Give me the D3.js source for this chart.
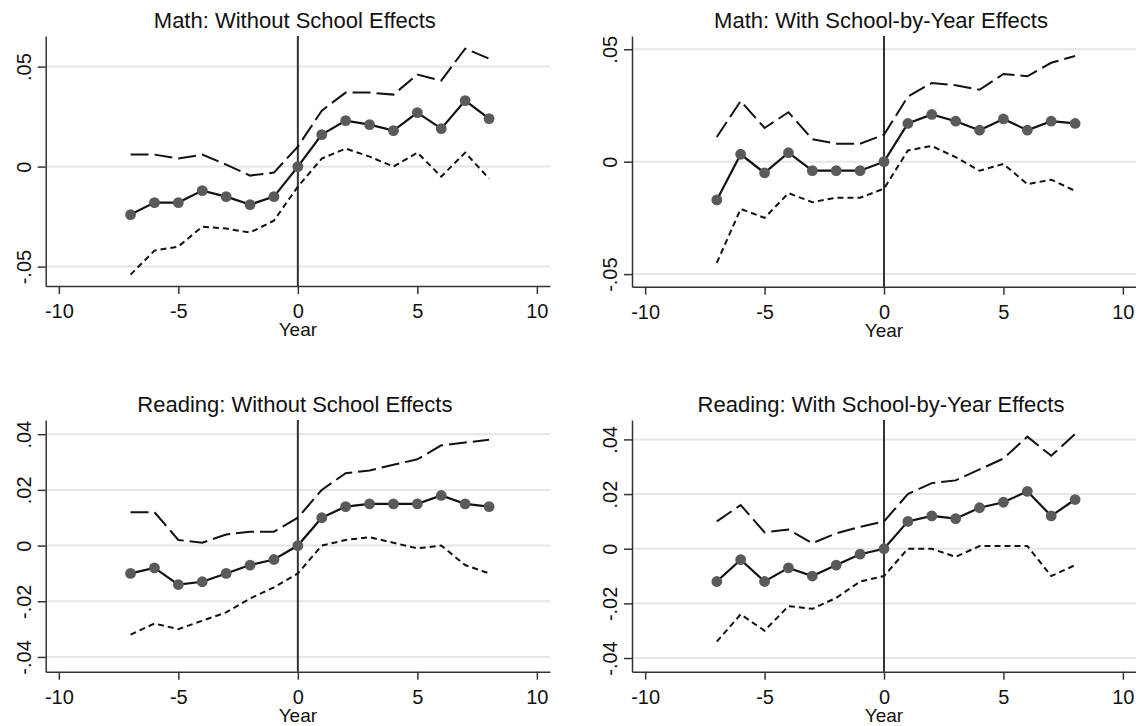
<!DOCTYPE html>
<html>
<head>
<meta charset="utf-8">
<script src="https://cdn.jsdelivr.net/npm/d3@7"></script>
<style>
	body { margin: 0; background: #fff; }
	svg { display: block; font-family: "Liberation Sans", Arial, sans-serif; }
	.axis path, .axis line { stroke: #333; stroke-width: 1.5; }
	.axis text { fill: #111; font-size: 20px; font-family: "Liberation Sans", Arial, sans-serif; }
	.grid { stroke: #e6e6e6; stroke-width: 2; }
</style>
</head>
<body>
<div id="chart"></div>
<script>
// event-time years
var years = [-7,-6,-5,-4,-3,-2,-1,0,1,2,3,4,5,6,7,8]

var xTicks = [-10,-5,0,5,10]
var mathTicks = [-0.05,0,0.05]
var mathTickLabels = ["-.05","0",".05"]
var readTicks = [-0.04,-0.02,0,0.02,0.04]
var readTickLabels = ["-.04","-.02","0",".02",".04"]

// Math: Without School Effects
var mathNoEst   = [-0.024,-0.018,-0.018,-0.012,-0.015,-0.019,-0.015,0,0.016,0.023,0.021,0.018,0.027,0.019,0.033,0.024]
var mathNoUpper = [0.006,0.006,0.004,0.006,0.001,-0.0045,-0.003,0.010,0.028,0.037,0.037,0.036,0.046,0.043,0.059,0.054]
var mathNoLower = [-0.054,-0.042,-0.040,-0.030,-0.031,-0.033,-0.027,-0.010,0.004,0.009,0.005,0,0.007,-0.005,0.007,-0.006]

// Math: With School-by-Year Effects
var mathSyEst   = [-0.017,0.0033,-0.005,0.004,-0.004,-0.004,-0.004,0,0.017,0.021,0.018,0.014,0.019,0.014,0.018,0.017]
var mathSyUpper = [0.011,0.027,0.015,0.022,0.010,0.008,0.008,0.012,0.029,0.035,0.034,0.032,0.039,0.038,0.044,0.047]
var mathSyLower = [-0.045,-0.021,-0.025,-0.014,-0.018,-0.016,-0.016,-0.012,0.005,0.007,0.002,-0.004,-0.001,-0.010,-0.008,-0.013]

// Reading: Without School Effects
var readNoEst   = [-0.010,-0.008,-0.014,-0.013,-0.010,-0.007,-0.005,0,0.010,0.014,0.015,0.015,0.015,0.018,0.015,0.014]
var readNoUpper = [0.012,0.012,0.002,0.001,0.004,0.005,0.005,0.010,0.020,0.026,0.027,0.029,0.031,0.036,0.037,0.038]
var readNoLower = [-0.032,-0.028,-0.030,-0.027,-0.024,-0.019,-0.015,-0.010,0,0.002,0.003,0.001,-0.001,0,-0.007,-0.010]

// Reading: With School-by-Year Effects
var readSyEst   = [-0.012,-0.004,-0.012,-0.007,-0.010,-0.006,-0.002,0,0.010,0.012,0.011,0.015,0.017,0.021,0.012,0.018]
var readSyUpper = [0.010,0.016,0.006,0.007,0.002,0.0056,0.008,0.010,0.020,0.024,0.025,0.029,0.033,0.041,0.034,0.042]
var readSyLower = [-0.034,-0.024,-0.030,-0.021,-0.022,-0.018,-0.012,-0.010,0,0,-0.003,0.001,0.001,0.001,-0.010,-0.006]

var panels = [
	{title:"Math: Without School Effects", est:mathNoEst, upper:mathNoUpper, lower:mathNoLower,
	 ticks:mathTicks, labels:mathTickLabels, yDomain:[-0.0597,0.0653], left:45.7, right:550, top:36, bottom:286},
	{title:"Math: With School-by-Year Effects", est:mathSyEst, upper:mathSyUpper, lower:mathSyLower,
	 ticks:mathTicks, labels:mathTickLabels, yDomain:[-0.0556,0.0559], left:632, right:1136, top:36, bottom:286.7},
	{title:"Reading: Without School Effects", est:readNoEst, upper:readNoUpper, lower:readNoLower,
	 ticks:readTicks, labels:readTickLabels, yDomain:[-0.0453,0.0451], left:45.7, right:550, top:420, bottom:671.7},
	{title:"Reading: With School-by-Year Effects", est:readSyEst, upper:readSyUpper, lower:readSyLower,
	 ticks:readTicks, labels:readTickLabels, yDomain:[-0.045,0.0471], left:632, right:1136, top:420, bottom:671.7}
]

var svg = d3.select("#chart")
	.append("svg")
	.attr("width",1136)
	.attr("height",726)

function drawPanel(p){
	let x = d3.scaleLinear().domain([-10.55,10.55]).range([p.left,p.right])
	let y = d3.scaleLinear().domain(p.yDomain).range([p.bottom,p.top])
	let g = svg.append("g")

	// gridlines
	g.selectAll(".grid")
		.data(p.ticks)
		.enter()
		.append("line")
		.attr("class","grid")
		.attr("x1",p.left).attr("x2",p.right)
		.attr("y1",d=>y(d)).attr("y2",d=>y(d))

	// reference line at year 0
	g.append("line")
		.attr("x1",x(0)).attr("x2",x(0))
		.attr("y1",p.top).attr("y2",p.bottom)
		.attr("stroke","#333")
		.attr("stroke-width",2)

	let line = vals => d3.line().x((d,i)=>x(years[i])).y(d=>y(d))(vals)

	g.append("path")
		.attr("d",line(p.upper))
		.attr("fill","none")
		.attr("stroke","#111")
		.attr("stroke-width",2)
		.attr("stroke-dasharray","18,6")

	g.append("path")
		.attr("d",line(p.lower))
		.attr("fill","none")
		.attr("stroke","#111")
		.attr("stroke-width",2)
		.attr("stroke-dasharray","6,4")

	g.append("path")
		.attr("d",line(p.est))
		.attr("fill","none")
		.attr("stroke","#111")
		.attr("stroke-width",2.2)

	g.selectAll(".pt")
		.data(p.est)
		.enter()
		.append("circle")
		.attr("class","pt")
		.attr("cx",(d,i)=>x(years[i]))
		.attr("cy",d=>y(d))
		.attr("r",5.4)
		.attr("fill","#5a5a5a")

	// axes
	let xAxis = d3.axisBottom(x)
		.tickValues(xTicks)
		.tickFormat(d3.format("d"))
		.tickSize(8)
		.tickSizeOuter(0)
		.tickPadding(10)
	g.append("g")
		.attr("class","axis")
		.attr("transform","translate(0," + p.bottom + ")")
		.call(xAxis)
		.selectAll("text").text(d=>String(d))

	let yAxis = d3.axisLeft(y)
		.tickValues(p.ticks)
		.tickFormat((d,i)=>p.labels[i])
		.tickSize(8)
		.tickSizeOuter(0)
	g.append("g")
		.attr("class","axis")
		.attr("transform","translate(" + p.left + ",0)")
		.call(yAxis)
		.selectAll("text")
		.attr("x",null)
		.attr("dy",null)
		.attr("text-anchor","middle")
		.attr("transform","translate(-15,0) rotate(-90)")

	g.append("text")
		.attr("x",x(0) - 3)
		.attr("y",p.top - 8)
		.attr("text-anchor","middle")
		.attr("font-size","22px")
		.attr("fill","#111")
		.text(p.title)

	g.append("text")
		.attr("x",x(0))
		.attr("y",p.bottom + 50)
		.attr("text-anchor","middle")
		.attr("font-size","19px")
		.attr("fill","#111")
		.text("Year")
}

panels.forEach(drawPanel)
</script>
</body>
</html>
